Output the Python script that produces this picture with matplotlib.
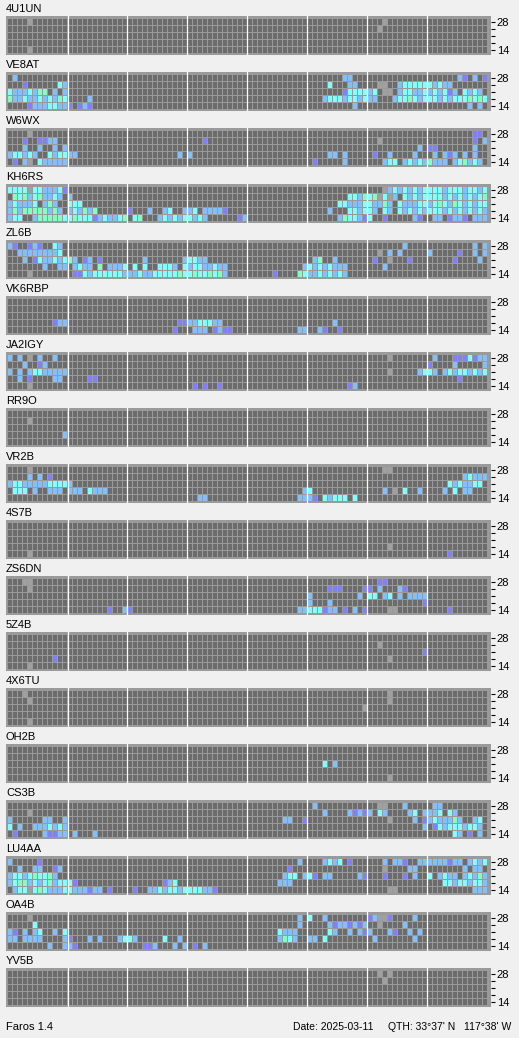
import matplotlib
matplotlib.use("Agg")
import matplotlib.pyplot as plt

# ---------------- data ----------------
stations = ["4U1UN", "VE8AT", "W6WX", "KH6RS", "ZL6B", "VK6RBP", "JA2IGY", "RR9O",
            "VR2B", "4S7B", "ZS6DN", "5Z4B", "4X6TU", "OH2B", "CS3B", "LU4AA",
            "OA4B", "YV5B"]
bands = ["28", "24", "21", "18", "14"]          # rows, top to bottom
band_tick_labels = ["28", "", "", "", "14"]
n_slots = 96                                     # 15-minute slots over 24 h
footer_left = "Faros 1.4"
footer_date = "Date: 2025-03-11"
footer_qth = "QTH: 33°37' N"
footer_lon = "117°38' W"

# row specs: "start:codes" ; codes . empty, g grey, b blue, c cyan, m mint, p violet
rows_4u1un = ["4:g 75:g", "74:g", "", "", "4:g"]
rows_ve8at = ["1:b 67:bb 90:bp 93:b 95:p",
              "3:p 10:cb 64:c 68:bb 74:gg 78:bccccccbcbb",
              "0:cbbbcbmm.b.b 67:pccccbc 75:gg 78:bccbbcbcbcpb 91:cbcb",
              "0:mbbcbbcbcbmc 16:b 63:bcccbccbcbb 77:bccmcbcccbcbcccmcmc",
              "4:pbbbccbbp.pbp 69:b 92:b 94:b"]
rows_w6wx = ["4:g 93:pp",
             "3:p 6:ppbb 39:p 74:g 93:p 95:b",
             "3:b 6:b 9:b 11:b 82:b 84:pp 93:b",
             "0:bccbcb..cbccbb 34:b 36:b 64:bb 67:b 73:p 76:b 81:b 85:b 87:bpb 91:b 93:b",
             "1:p 3:bg.cbbbbb 61:p 67:b 75:bcc.bcbcbmbbb.bcmbcb"]
rows_kh6rs = ["0:ccccgccbbbcp 75:g 76:bcbcbcbccccbcccbccbc",
              "1:mcmbcmbbcb.b 68:ccbmcmgcgb.cbcbccccbcbcbcbcm",
              "0:bcbbbc.bmb.. 12:ccc 66:ccbbbccbbmb.cbbbccbcmcbmcbcbcc",
              "0:bmbmmmmmbmb.bcbmbm 24:p 28:b 31:bc 35:bbc 39:bbbbp 64:b 68:ccbccb.cb.cbcbcbcccbcbcbcbcb",
              "0:bcc..bmmmmmccmcccpbcbbcm.cm...bcbcbccbcb 46:pb 66:bmccbpc..p 81:bp 85:bb 88:pbbp 93:bbb"]
rows_zl6b = ["0:bp 4:pbp 9:cb 79:b 93:b 95:b",
             "2:bbbbbbbbc 74:g 76:b 78:b 84:b 90:p 93:b 95:b",
             "3:b 5:pcbbcbcmb.pb.p 27:b 35:bccbb 61:bm 65:b 73:p 76:g 80:p 89:p 94:b",
             "7:b..bb.bcbb.m.bbbc.c.c..cccb.cbccbbcbb 59:bcbcbcbbb 75:b",
             "4:g 13:ppcbccccccbbbcbbcccccmccmccmcmb 53:p 58:mcbbcbcbcb"]
rows_vk6rbp = ["", "", "",
               "9:pbb 34:ppbbcccbb 65:b",
               "33:p 37:bbb 41:pbpp 58:bb 62:bp 66:p"]
rows_ja2igy = ["0:b 2:b 4:g 6:b 9:b 76:g 85:b 89:pppcpbb",
               "3:b 6:pb 84:p 89:b 95:b",
               "0:b 2:b 4:bccbbbbb 76:g 82:bccb 87:bcbccbcbc",
               "2:b 4:p 9:bb 16:pp 90:p",
               "4:g 37:p 39:p 42:p 68:pb"]
rows_rr9o = ["", "4:g", "", "11:b", ""]
rows_vr2b = ["4:g 75:gg",
             "4:b 6:b 8:p 91:bcbbb",
             "0:bccbbbbbccccb 88:cbcbbcc",
             "1:ccc 5:b 8:bbb 12:bbb 16:cbbb 59:bc 75:b 77:g 79:c 82:b 87:b 89:c 91:bb",
             "38:bb 58:bbbp.cbccc.c"]
rows_4s7b = ["", "", "", "76:g", "4:g 88:p"]
rows_zs6dn = ["3:gg 74:pp",
              "4:g 64:ppp 71:pp 74:b 78:bp",
              "60:b 70:b 72:cc 75:bc 78:b 80:bbbb",
              "60:b 64:b 83:p",
              "20:p 23:bp 58:bbcccpbb.p.b.p 76:gg 88:p"]
rows_5z4b = ["", "74:g", "83:p", "9:p 76:g", "4:g"]
rows_4x6tu = ["3:g 76:g", "4:g 76:g", "71:g", "", "4:g"]
rows_oh2b = ["", "", "63:c 65:b", "", "76:g"]
rows_cs3b = ["61:b 74:gg 79:b 85:bb",
             "4:g 63:b 68:bpbpb 74:cb 80:bc 83:bbbc 88:cb",
             "0:b 7:bb 11:b 55:bb 59:p 76:g 81:b 83:pbcbbbmb 93:bc",
             "0:c 2:b 5:bbbcbcb 83:b 85:pcbcccbccb",
             "1:p 7:bppbb 13:b 17:b 89:cb 92:p 94:b"]
rows_lu4aa = ["0:b 6:p 58:b 63:bcbc 68:p 75:b 77:bbp 82:bbbbbbpbb 92:bcbc",
              "2:b 5:bb 9:pb 56:p 75:g 80:bb 91:b 93:bb",
              "0:bccbcmccmb 55:bcc 59:bcp 63:bb 70:bp 75:p 79:p 81:b 84:c 86:bcbb 91:bcbmb",
              "0:bcmmbcbcmbcccp 31:pbc 54:bbb 87:ccbccbccb",
              "1:bccgcmcbbbccbbbpbb 20:p 25:p 28:bbcbccbccccbbp 76:gg 93:bbb"]
rows_oa4b = ["4:g 58:b 60:c 63:b 72:pbggp 81:b",
             "5:c 58:b 64:bpbbpbpb 74:g 79:b",
             "0:bp 3:b 5:bc 9:b 11:c 54:cbbb 64:cb 68:b 70:bpb 76:bp 80:b 82:b",
             "0:bb 3:bbbb 11:bp 16:b 18:b 22:bccb 31:c 34:b 54:bmcb 60:bb 63:c 73:b 81:b",
             "8:b 11:bbp 27:ppb 33:b 35:b 37:p 39:b"]
rows_yv5b = ["74:g 76:g", "75:g", "", "", ""]

panel_rows = [rows_4u1un, rows_ve8at, rows_w6wx, rows_kh6rs, rows_zl6b, rows_vk6rbp,
              rows_ja2igy, rows_rr9o, rows_vr2b, rows_4s7b, rows_zs6dn, rows_5z4b,
              rows_4x6tu, rows_oh2b, rows_cs3b, rows_lu4aa, rows_oa4b, rows_yv5b]

# ---------------- style ----------------
BG = "#f0f0f0"
FRAME = "#9a9a9a"
code_colors = {".": "#6c6c6c", "g": "#a0a0a0", "b": "#80c0ff",
               "c": "#80ffff", "m": "#80ffc0", "p": "#8080ff"}
FONT = ["Liberation Sans", "DejaVu Sans"]
NARROW = ["Liberation Sans Narrow", "Liberation Sans", "DejaVu Sans"]
plt.rcParams["font.family"] = FONT

W, H = 519, 1038
fig = plt.figure(figsize=(W / 100, H / 100), dpi=100, facecolor=BG)


def decode(spec):
    arr = ["."] * n_slots
    for tok in spec.split():
        s, codes = tok.split(":")
        s = int(s)
        for j, ch in enumerate(codes):
            arr[s + j] = ch
    return arr


cell_w = 0.8
cell_h = 6 / 7
for i, (name, rows) in enumerate(zip(stations, panel_rows)):
    top_px = 16 + 56 * i
    h_px = 39.3
    ax = fig.add_axes([6 / W, 1 - (top_px + h_px) / H, 484.7 / W, h_px / H])
    ax.set_facecolor(FRAME)
    for s in ax.spines.values():
        s.set_visible(False)
    for r in range(len(bands)):
        codes = decode(rows[r])
        ax.bar(range(n_slots), cell_h, bottom=len(bands) - 1 - r, width=cell_w,
               align="edge", color=[code_colors[c] for c in codes],
               linewidth=0, antialiased=False)
    for k in range(1, 8):
        ax.axvline(12 * k - 0.1, color="white", lw=0.9)
    ax.set_xlim(-0.4, 96.54)
    ax.set_ylim(-2.3 / 7, 4 + cell_h + 3 / 7)
    ax.set_xticks([])
    ax.yaxis.tick_right()
    ax.set_yticks([len(bands) - 1 - r + 3 / 7 for r in range(len(bands))])
    ax.set_yticklabels(band_tick_labels)
    ax.tick_params(axis="y", length=3.2, width=0.8, pad=1.2, labelsize=8,
                   color="black", labelcolor="black")
    fig.text(6 / W, 1 - (12.3 + 56 * i) / H, name, fontsize=8, va="baseline",
             ha="left", color="black")

fy = 1 - 1029.5 / H
fig.text(6 / W, fy, footer_left, fontsize=8, va="baseline", ha="left")
fig.text(292.7 / W, fy, footer_date, fontsize=7.5, va="baseline", ha="left", family=NARROW)
fig.text(387.7 / W, fy, footer_qth, fontsize=7.5, va="baseline", ha="left", family=NARROW)
fig.text(511.7 / W, fy, footer_lon, fontsize=7.5, va="baseline", ha="right", family=NARROW)

fig.savefig("out.png", dpi=100, facecolor=BG)
